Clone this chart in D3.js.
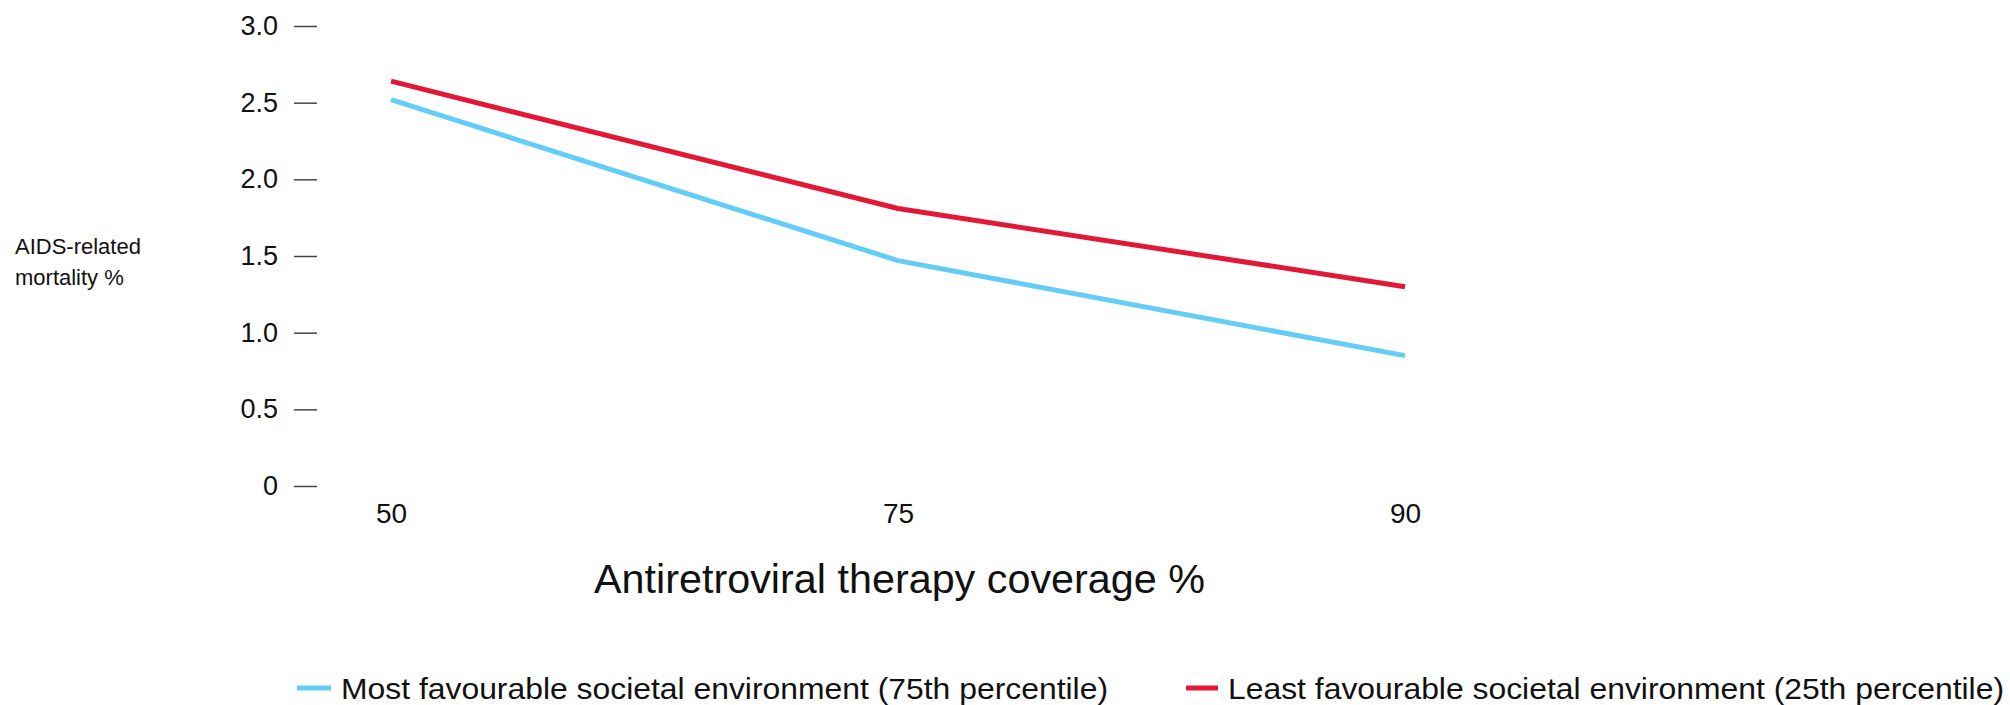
<!DOCTYPE html>
<html>
<head>
<meta charset="utf-8">
<script src="https://cdn.jsdelivr.net/npm/d3@7/dist/d3.min.js"></script>
<style>
  html, body { margin: 0; padding: 0; background: #fff; }
  svg { display: block; font-family: "Liberation Sans", Arial, sans-serif; }
</style>
</head>
<body>
<svg id="chart" width="2010" height="705"></svg>
<script>
// ---- data ----
const categories = ["50", "75", "90"];
const mostFavourable = [2.52, 1.47, 0.85];
const leastFavourable = [2.64, 1.81, 1.30];
const yTicks = [0, 0.5, 1.0, 1.5, 2.0, 2.5, 3.0];
const seriesNames = [
  "Most favourable societal environment (75th percentile)",
  "Least favourable societal environment (25th percentile)"
];
const seriesColors = ["#63CDF7", "#E31837"];
const xTitle = "Antiretroviral therapy coverage %";
const yTitleLines = ["AIDS-related", "mortality %"];

// ---- layout ----
const svg = d3.select("#chart");
const x = d3.scalePoint().domain(categories).range([391, 1405]);
const y = d3.scaleLinear().domain([0, 3]).range([486, 26]);

// y axis
const yAxis = d3.axisLeft(y)
  .tickValues(yTicks)
  .tickSize(23)
  .tickPadding(16)
  .tickFormat(d => d === 0 ? "0" : d.toFixed(1));
const gy = svg.append("g").attr("transform", "translate(317,0)").call(yAxis);
gy.select(".domain").remove();
gy.selectAll(".tick line").attr("stroke", "#444").attr("stroke-width", 1.5);
gy.selectAll(".tick text")
  .attr("font-size", 27)
  .attr("fill", "#111")
  .attr("font-family", "Liberation Sans, Arial, sans-serif");

// x axis
const xAxis = d3.axisBottom(x).tickSize(0).tickPadding(0);
const gx = svg.append("g").attr("transform", "translate(0,500)").call(xAxis);
gx.select(".domain").remove();
gx.selectAll(".tick text")
  .attr("font-size", 28)
  .attr("fill", "#111")
  .attr("y", 23)
  .attr("dy", 0)
  .attr("font-family", "Liberation Sans, Arial, sans-serif");

// y title
const yt = svg.append("text").attr("font-size", 22).attr("fill", "#111");
yTitleLines.forEach((t, i) => {
  yt.append("tspan").attr("x", 15).attr("y", 254 + i * 31).text(t);
});

// x title
svg.append("text")
  .attr("x", 594).attr("y", 593)
  .attr("font-size", 41)
  .attr("fill", "#111")
  .attr("textLength", 611)
  .attr("lengthAdjust", "spacingAndGlyphs")
  .text(xTitle);

// lines
const line = d3.line().x((d, i) => x(categories[i])).y(d => y(d));
[mostFavourable, leastFavourable].forEach((vals, i) => {
  svg.append("path")
    .datum(vals)
    .attr("fill", "none")
    .attr("stroke", seriesColors[i])
    .attr("stroke-width", 5)
    .attr("stroke-linejoin", "round")
    .attr("d", line);
});

// legend
const legendItems = [
  { x0: 297, x1: 331, tx: 341, tl: 767 },
  { x0: 1186, x1: 1218, tx: 1228, tl: 776 }
];
legendItems.forEach((it, i) => {
  svg.append("line")
    .attr("x1", it.x0).attr("x2", it.x1)
    .attr("y1", 688).attr("y2", 688)
    .attr("stroke", seriesColors[i]).attr("stroke-width", 5);
  svg.append("text")
    .attr("x", it.tx).attr("y", 699)
    .attr("font-size", 30)
    .attr("fill", "#111")
    .attr("textLength", it.tl)
    .attr("lengthAdjust", "spacingAndGlyphs")
    .text(seriesNames[i]);
});
</script>
</body>
</html>
